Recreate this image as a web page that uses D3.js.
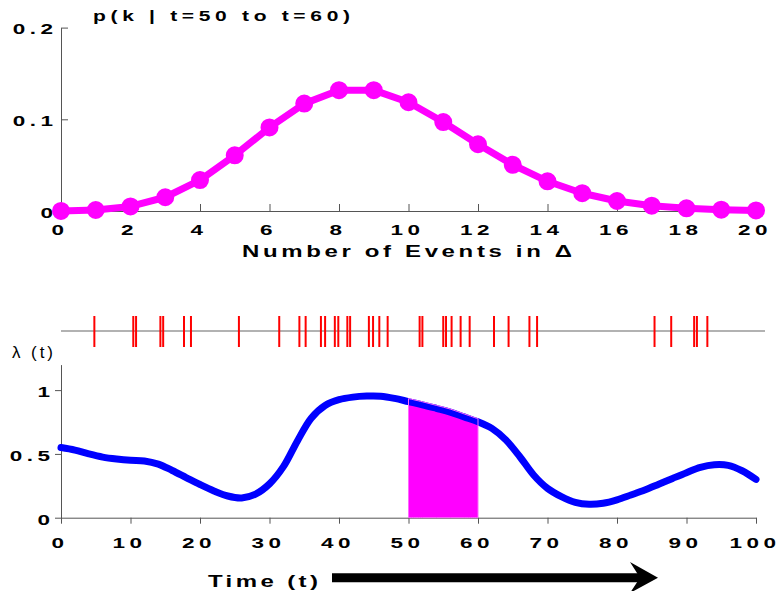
<!DOCTYPE html>
<html>
<head>
<meta charset="utf-8">
<script src="https://cdn.jsdelivr.net/npm/d3@7"></script>
<style>
  html, body { margin: 0; padding: 0; background: #fff; }
  svg { display: block; font-family: "Liberation Sans", Arial, sans-serif; }
</style>
</head>
<body>
<svg id="chart" width="780" height="591"></svg>
<script>
// Count distribution over the window t = 50..60
const counts = [0, 1, 2, 3, 4, 5, 6, 7, 8, 9, 10, 11, 12, 13, 14, 15, 16, 17, 18, 19, 20];
const probs = [0.0001, 0.0011, 0.0050, 0.0150, 0.0337, 0.0607, 0.0911, 0.1171, 0.1318, 0.1318,
               0.1186, 0.0970, 0.0728, 0.0504, 0.0324, 0.0194, 0.0109, 0.0058, 0.0029, 0.0014, 0.0006];
const probTicks = [0, 0.1, 0.2];
const countTicks = [0, 2, 4, 6, 8, 10, 12, 14, 16, 18, 20];

// Event times (spike train)
const eventTimes = [4.8, 10.4, 10.8, 14.3, 14.7, 17.7, 18.7, 25.6, 31.4, 34.3, 35.2, 37.4, 38.0,
                    39.4, 39.9, 41.2, 41.6, 44.3, 44.9, 45.8, 47.0, 51.6, 52.0, 55.0, 55.4, 56.2,
                    57.5, 58.8, 62.3, 64.4, 67.4, 68.5, 85.4, 87.8, 91.1, 91.5, 93.0];

// Rate function lambda(t), sampled every 2 time units
const timeSamples = [0, 2, 4, 6, 8, 10, 12, 14, 16, 18, 20, 22, 24, 26, 28, 30, 32, 34, 36, 38, 40,
                     42, 44, 46, 48, 50, 52, 54, 56, 58, 60, 62, 64, 66, 68, 70, 72, 74, 76, 78, 80,
                     82, 84, 86, 88, 90, 92, 94, 96, 98, 100];
const rateValues = [0.55, 0.53, 0.50, 0.475, 0.46, 0.45, 0.445, 0.42, 0.37, 0.315, 0.26, 0.21, 0.17,
                    0.155, 0.185, 0.265, 0.40, 0.60, 0.78, 0.88, 0.925, 0.945, 0.953, 0.952, 0.935,
                    0.91, 0.885, 0.857, 0.828, 0.79, 0.752, 0.70, 0.61, 0.48, 0.335, 0.23, 0.165,
                    0.12, 0.105, 0.113, 0.14, 0.178, 0.217, 0.262, 0.308, 0.353, 0.395, 0.415, 0.41,
                    0.368, 0.30];
const rateTicks = [0, 0.5, 1];
const timeTicks = [0, 10, 20, 30, 40, 50, 60, 70, 80, 90, 100];
const windowRange = [50, 60];

const MAGENTA = "#ff00ff", BLUE = "#0000ff", RED = "#ff0000", AXIS = "#555";
const SX = 1.5;        // horizontal stretch of the lettering
const LS = 3;          // tick label letter spacing

const svg = d3.select("#chart");

// ---------- helpers ----------
function styleAxis(g, leftAnchorX) {
  g.attr("font-family", "Liberation Sans, Arial, sans-serif")
   .attr("font-size", 15).attr("font-weight", "bold");
  g.select(".domain").attr("stroke", AXIS);
  g.selectAll(".tick line").attr("stroke", AXIS);
  const t = g.selectAll(".tick text")
    .attr("fill", "#000")
    .attr("letter-spacing", LS)
    .attr("transform", `scale(${SX},1)`);
  if (leftAnchorX !== undefined) t.attr("x", leftAnchorX).attr("dy", "0.42em");
  else t.attr("dx", -1);
}

function wideText(str, cx, base, size, width, weight) {
  svg.append("text")
    .attr("transform", `translate(${cx},${base}) scale(${SX},1)`)
    .attr("text-anchor", "middle")
    .attr("font-size", size)
    .attr("font-weight", weight)
    .attr("textLength", width / SX)
    .attr("lengthAdjust", "spacing")
    .attr("fill", "#000")
    .text(str);
}

// ---------- top panel: count distribution ----------
const xK = d3.scaleLinear().domain([0, 20]).range([61, 756]);
const yP = d3.scaleLinear().domain([0, 0.2]).range([211, 27.6]);

const gTopY = svg.append("g").attr("transform", `translate(61,0)`)
  .call(d3.axisLeft(yP).tickValues(probTicks).tickFormat(d3.format("~g"))
        .tickSizeInner(-7).tickSizeOuter(0).tickPadding(2));
styleAxis(gTopY, -2.4);

const gTopX = svg.append("g").attr("transform", `translate(0,211)`)
  .call(d3.axisBottom(xK).tickValues(countTicks).tickFormat(d3.format("d"))
        .tickSizeInner(-7).tickSizeOuter(0).tickPadding(13));
styleAxis(gTopX);

const pmf = counts.map((k, i) => ({ k, p: probs[i] }));
svg.append("path")
  .datum(pmf)
  .attr("fill", "none")
  .attr("stroke", MAGENTA)
  .attr("stroke-width", 7)
  .attr("stroke-linejoin", "round")
  .attr("d", d3.line().x(d => xK(d.k)).y(d => yP(d.p)));

svg.append("g").selectAll("circle")
  .data(pmf)
  .join("circle")
  .attr("cx", d => xK(d.k))
  .attr("cy", d => yP(d.p))
  .attr("r", 7.5)
  .attr("fill", MAGENTA)
  .attr("stroke", MAGENTA)
  .attr("stroke-width", 3);

wideText("p(k | t=50 to t=60)", 221.5, 21, 14, 257, "bold");
wideText("Number of Events in \u0394", 407, 257, 16, 330, "bold");

// ---------- spike train ----------
const xT = d3.scaleLinear().domain([0, 100]).range([61, 756]);

svg.append("line")
  .attr("x1", 61).attr("x2", 765)
  .attr("y1", 331).attr("y2", 331)
  .attr("stroke", "#999").attr("stroke-width", 1.5);

svg.append("g").selectAll("line")
  .data(eventTimes)
  .join("line")
  .attr("x1", d => xT(d)).attr("x2", d => xT(d))
  .attr("y1", 316).attr("y2", 347)
  .attr("stroke", RED).attr("stroke-width", 2);

// ---------- bottom panel: rate function ----------
const yR = d3.scaleLinear().domain([0, 1.2]).range([517.7, 364.6]);
const rate = timeSamples.map((t, i) => ({ t, v: rateValues[i] }));
const curve = d3.curveCatmullRom.alpha(0.5);

const win = rate.filter(d => d.t >= windowRange[0] && d.t <= windowRange[1]);
const area = d3.area().x(d => xT(d.t)).y0(yR(0)).y1(d => yR(d.v)).curve(curve);

svg.append("path").datum(win)
  .attr("fill", MAGENTA)
  .attr("d", area);

const gBotY = svg.append("g").attr("transform", `translate(61,0)`)
  .call(d3.axisLeft(yR).tickValues(rateTicks).tickFormat(d3.format("~g"))
        .tickSize(6).tickSizeOuter(0));
styleAxis(gBotY, -4.3);

const gBotX = svg.append("g").attr("transform", `translate(0,517.7)`)
  .call(d3.axisBottom(xT).tickValues(timeTicks).tickFormat(d3.format("d"))
        .tickSize(6).tickSizeOuter(0).tickPadding(14));
styleAxis(gBotX);

svg.append("path").datum(rate)
  .attr("fill", "none")
  .attr("stroke", BLUE)
  .attr("stroke-width", 7)
  .attr("stroke-linecap", "round")
  .attr("d", d3.line().x(d => xT(d.t)).y(d => yR(d.v)).curve(curve));

// thin border of the shaded window, riding on the top edge of the rate curve
svg.append("path").datum(win)
  .attr("fill", "none")
  .attr("stroke", "#ff66ff")
  .attr("stroke-width", 1)
  .attr("d", d3.area().x(d => xT(d.t)).y0(yR(0)).y1(d => yR(d.v) - 3).curve(curve));

// lambda(t) label
svg.append("text")
  .attr("x", 12).attr("y", 358)
  .attr("font-size", 17)
  .attr("textLength", 41)
  .attr("lengthAdjust", "spacing")
  .attr("fill", "#000")
  .text("\u03bb (t)");

wideText("Time (t)", 263, 586.5, 16, 110, "bold");

// time arrow
svg.append("line")
  .attr("x1", 332).attr("x2", 640)
  .attr("y1", 577.8).attr("y2", 577.8)
  .attr("stroke", "#000").attr("stroke-width", 9);
svg.append("path")
  .attr("d", d3.line()([[630, 562], [658, 577.8], [630, 593], [640, 577.8]]) + "Z")
  .attr("fill", "#000");
</script>
</body>
</html>
